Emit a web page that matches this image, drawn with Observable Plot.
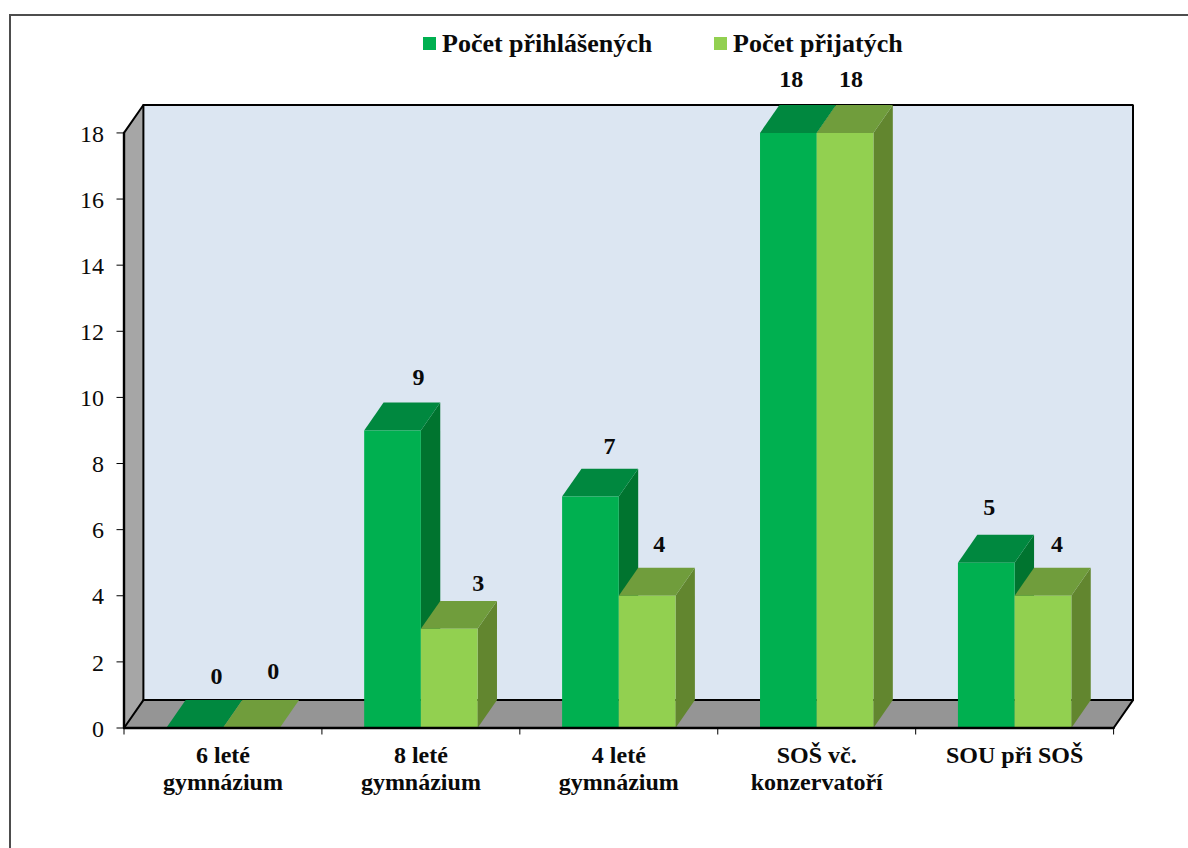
<!DOCTYPE html>
<html lang="cs">
<head>
<meta charset="utf-8">
<script src="https://cdn.jsdelivr.net/npm/d3@7"></script>
<script src="https://cdn.jsdelivr.net/npm/@observablehq/plot@0.6"></script>
<style>
  html, body { margin: 0; padding: 0; background: #fff; }
  #page { position: relative; width: 1188px; height: 848px; overflow: hidden; font-family: "Liberation Serif", serif; }
  #frame { position: absolute; left: 9px; top: 14px; width: 1179px; height: 834px; box-sizing: border-box;
           border-top: 2px solid #4d4d4d; border-left: 2px solid #4d4d4d; }
  #page svg { position: absolute; left: 0; top: 0; }
  .key { position: absolute; top: 30px; height: 28px; line-height: 28px; font-size: 26px; font-weight: bold; color: #0a0a0a; white-space: nowrap; }
  .key i { position: absolute; left: 0; top: 7px; width: 13px; height: 13px; }
  .key span { position: absolute; left: 19px; top: 0; }
</style>
</head>
<body>
<div id="page">
  <div id="frame"></div>
  <div id="chart"></div>
</div>
<script>
// ---- data ----
const categories = ["6 leté\ngymnázium", "8 leté\ngymnázium", "4 leté\ngymnázium", "SOŠ vč.\nkonzervatoří", "SOU při SOŠ"];
const seriesNames = ["Počet přihlášených", "Počet přijatých"];
const prihlaseni = [0, 9, 7, 18, 5];
const prijati = [0, 3, 4, 18, 4];
const yTicks = [0, 2, 4, 6, 8, 10, 12, 14, 16, 18];

// ---- appearance ----
const frontColors = ["#00b050", "#92d050"];
const topColors = ["#00883f", "#709d3c"];
const sideColors = ["#00742f", "#62862f"];
const depthX = 0.098, depthY = 0.845;   // 3-D depth in data units
const barW = 0.2865;                    // one bar in category units
const xMax = categories.length;
const yMax = 18;
const pxX = 197.8, pxY = 33.06;         // px per data unit, for label nudges
// hand-placed label nudges of the original, [px right of bar centre, px above bar top]
const labelNudges = [[[22, 52], [22, 57]], [[26, 53], [29, 46]], [[19, 50], [12, 51]], [[3, 54], [6, 54]], [[3, 55], [14, 51]]];

// ---- table built from the arrays ----
const seriesValues = [prihlaseni, prijati];
const polys = [];
let pid = 0;
function poly(points, fill) { const id = pid++; points.forEach(([x, y]) => polys.push({id, x, y, fill})); }
categories.forEach((c, i) => {
  seriesValues.forEach((vals, s) => {
    const v = vals[i], x0 = i + 0.5 + (s - 1) * barW, x1 = x0 + barW;
    if (v > 0) poly([[x1, 0], [x1 + depthX, depthY], [x1 + depthX, v + depthY], [x1, v]], sideColors[s]);
    poly([[x0, v], [x1, v], [x1 + depthX, v + depthY], [x0 + depthX, v + depthY]], topColors[s]);
    if (v > 0) poly([[x0, 0], [x1, 0], [x1, v], [x0, v]], frontColors[s]);
  });
});
const labels = categories.flatMap((c, i) => seriesValues.map((vals, s) => ({
  value: vals[i],
  x: i + 0.5 + (s - 0.5) * barW + labelNudges[i][s][0] / pxX,
  y: vals[i] + labelNudges[i][s][1] / pxY
})));
const wall = [
  {x: 0, y: yMax}, {x: depthX, y: yMax + depthY}, {x: depthX, y: depthY}, {x: 0, y: 0}
];
const back = [
  {x: depthX, y: depthY}, {x: xMax + depthX, y: depthY}, {x: xMax + depthX, y: yMax + depthY}, {x: depthX, y: yMax + depthY}
];
const floor = [
  {x: 0, y: 0}, {x: xMax, y: 0}, {x: xMax + depthX, y: depthY}, {x: depthX, y: depthY}
];
const backEdges = [
  {k: 1, x: 0, y: yMax}, {k: 1, x: depthX, y: yMax + depthY}, {k: 1, x: xMax + depthX, y: yMax + depthY}, {k: 1, x: xMax + depthX, y: depthY}, {k: 1, x: xMax, y: 0},
  {k: 2, x: 0, y: 0}, {k: 2, x: depthX, y: depthY}, {k: 2, x: xMax + depthX, y: depthY},
  {k: 3, x: depthX, y: depthY}, {k: 3, x: depthX, y: yMax + depthY}
];
const frontEdges = [
  {k: 1, x: 0, y: yMax}, {k: 1, x: 0, y: 0}, {k: 1, x: xMax, y: 0}
];
const serif = "Liberation Serif";

const svg = Plot.plot({
  width: 1188, height: 848,
  marginLeft: 123.5, marginRight: 55.5, marginTop: 104.5, marginBottom: 120.5,
  style: {background: "transparent", fontFamily: serif, overflow: "visible"},
  x: {type: "linear", domain: [0, xMax + depthX]},
  y: {type: "linear", domain: [0, yMax + depthY]},
  marks: [
    Plot.line(back, {x: "x", y: "y", fill: "#dce6f2", stroke: "none", curve: "linear-closed"}),
    Plot.line(wall, {x: "x", y: "y", fill: "#a6a6a6", stroke: "none", curve: "linear-closed"}),
    Plot.line(floor, {x: "x", y: "y", fill: "#959595", stroke: "none", curve: "linear-closed"}),
    Plot.line(backEdges, {x: "x", y: "y", z: "k", stroke: "#000", strokeWidth: 2, strokeLinejoin: "miter"}),
    Plot.line(polys, {x: "x", y: "y", z: "id", fill: "fill", stroke: "none", curve: "linear-closed"}),
    Plot.line(frontEdges, {x: "x", y: "y", z: "k", stroke: "#000", strokeWidth: 2.4}),
    Plot.axisY({ticks: yTicks, tickSize: 7, tickFormat: () => "", label: null, stroke: "#000"}),
    Plot.axisY({ticks: yTicks, tickSize: 0, tickPadding: 20, dy: 1, label: null, fontSize: 24, color: "#0a0a0a", fontFamily: serif}),
    Plot.axisX({ticks: d3.range(0, xMax + 1), tickSize: 7, tickFormat: () => "", label: null, stroke: "#000"}),
    Plot.text(categories, {
      x: (d, i) => i + 0.5, y: () => 0, text: d => d, dy: 16, lineAnchor: "top", lineHeight: 1.125,
      fontSize: 24, fontWeight: "bold", fill: "#0a0a0a", fontFamily: serif
    }),
    Plot.text(labels, {
      x: "x", y: "y", text: "value", fontSize: 24, fontWeight: "bold", fill: "#0a0a0a", fontFamily: serif
    })
  ]
});
const page = document.getElementById("chart");
page.append(svg);
[[423, 0], [714, 1]].forEach(([left, s]) => {
  const k = document.createElement("div");
  k.className = "key";
  k.style.left = left + "px";
  k.innerHTML = `<i style="background:${frontColors[s]}"></i><span>${seriesNames[s]}</span>`;
  page.append(k);
});
</script>
</body>
</html>
